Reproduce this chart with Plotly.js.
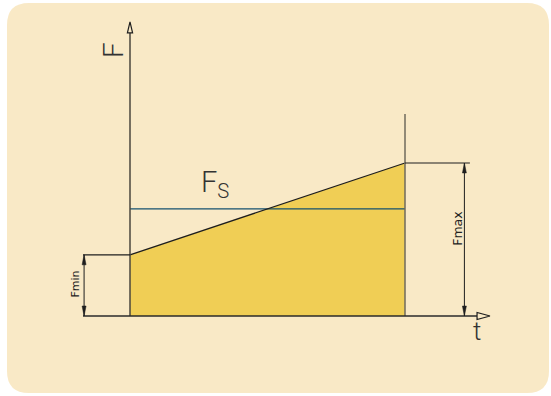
<!DOCTYPE html>
<html><head><meta charset="utf-8">
<script src="https://cdn.plot.ly/plotly-3.0.1.min.js"></script>
<style>html,body{margin:0;padding:0;background:#fff}#chart{width:551px;height:396px}</style>
</head><body><div id="chart"></div>
<script>
// ---- data ----
const tValues = [0, 10];          // start / end of the load interval
const forceValues = [2, 5];       // Fmin, Fmax
const forceMean = 3.5;            // Fs
const axisLabels = ['F', 't'];
const meanLabel = 'F<sub>S</sub>';
const dimLabels = ['Fmin', 'Fmax'];

// ---- style / geometry constants ----
const cream = '#F9E9C6';
const fillYellow = '#F0CE55';
const ink = '#1e1e1e';
const tMin = tValues[0], tMax = tValues[1];
const Fmin = forceValues[0], Fmax = forceValues[1];
const pxT = 27.5, pxF = 30.6;   // px per unit
const W = 551, H = 396;
const x0 = -130 / pxT, y0 = -(H - 316) / pxF;

function tri(x, y, dir, lenPx, halfPx) {
  const l = dir === 'right' ? lenPx / pxT : lenPx / pxF;
  const h = dir === 'right' ? halfPx / pxF : halfPx / pxT;
  if (dir === 'up') return {x: [x, x - h, x + h, x], y: [y, y - l, y - l, y]};
  if (dir === 'down') return {x: [x, x - h, x + h, x], y: [y, y + l, y + l, y]};
  return {x: [x, x - l, x - l, x], y: [y, y - h, y + h, y]};
}
function line(xs, ys, color, width) {
  return {type: 'scatter', mode: 'lines', x: xs, y: ys, hoverinfo: 'skip',
    line: {color: color, width: width}, showlegend: false};
}
function poly(p, fill, lc, lw) {
  return {type: 'scatter', mode: 'lines', x: p.x, y: p.y, fill: 'toself',
    fillcolor: fill, line: {color: lc, width: lw}, hoverinfo: 'skip', showlegend: false};
}

const yTop = 9.25, tEnd = 12.62, rightTop = 6.6;
const dimL = -1.67, dimR = 12.16, extL = -1.71, extR = 12.36;

const traces = [
  // filled region
  {type: 'scatter', mode: 'lines', x: [tMin, tMin, tMax, tMax, tMin], y: [0, Fmin, Fmax, 0, 0],
   fill: 'toself', fillcolor: fillYellow, line: {width: 0, color: fillYellow}, hoverinfo: 'skip', showlegend: false},
  // mean line
  line([tMin, tMax], [forceMean, forceMean], '#14506f', 1.2),
  // slope
  line([tMin, tMax], [Fmin, Fmax], ink, 1.3),
  // y axis
  line([tMin, tMin], [0, yTop], '#4a463c', 1.5),
  // right vertical
  line([tMax, tMax], [0, rightTop], '#6f6a5c', 1.5),
  // base line / t axis
  line([extL, tEnd], [0, 0], '#2a2a2a', 1.5),
  // extension lines
  line([extL, tMin], [Fmin, Fmin], ink, 1.2),
  line([tMax, extR], [Fmax, Fmax], ink, 1.2),
  // dimension lines
  line([dimL, dimL], [0, Fmin], ink, 1),
  line([dimR, dimR], [0, Fmax], ink, 1),
  poly(tri(dimL, Fmin, 'up', 10, 2), ink, ink, 0.5),
  poly(tri(dimL, 0, 'down', 10, 2), ink, ink, 0.5),
  poly(tri(dimR, Fmax, 'up', 10, 2), ink, ink, 0.5),
  poly(tri(dimR, 0, 'down', 10, 2), ink, ink, 0.5),
  // hollow axis arrows
  poly(tri(tMin, yTop + 11 / pxF, 'up', 11, 2.6), cream, ink, 1.2),
  poly(tri(tEnd + 13 / pxT, 0, 'right', 13, 3.5), cream, ink, 1.2)
];

const fnt = (s) => ({family: 'Roboto, Liberation Sans, sans-serif', size: s, color: '#333', weight: 300});
const small = (s) => ({family: 'DejaVu Sans, sans-serif', size: s, color: '#222'});
const annotations = [
  {x: -0.62, y: 8.69, text: axisLabels[0], textangle: -90, font: fnt(28)},
  {x: 12.62, y: -0.5, text: axisLabels[1], font: fnt(26)},
  {x: 3.1, y: 4.3, text: meanLabel, font: fnt(29)},
  {x: -2.0, y: 1.03, text: dimLabels[0], textangle: -90, font: small(11)},
  {x: 11.88, y: 2.84, text: dimLabels[1], textangle: -90, font: small(12.5)}
].map(a => Object.assign({xref: 'x', yref: 'y', showarrow: false, xanchor: 'center', yanchor: 'middle'}, a));

// rounded background (paper coords)
const L = 7 / W, R = 549 / W, T = 1 - 3 / H, B = 1 - 393 / H, rx = 22 / W, ry = 22 / H;
const bgPath = `M ${L + rx} ${T} L ${R - rx} ${T} Q ${R} ${T} ${R} ${T - ry} L ${R} ${B + ry} Q ${R} ${B} ${R - rx} ${B} L ${L + rx} ${B} Q ${L} ${B} ${L} ${B + ry} L ${L} ${T - ry} Q ${L} ${T} ${L + rx} ${T} Z`;

const layout = {
  width: W, height: H, margin: {l: 0, r: 0, t: 0, b: 0, pad: 0},
  paper_bgcolor: '#ffffff', plot_bgcolor: 'rgba(0,0,0,0)',
  xaxis: {range: [x0, x0 + W / pxT], visible: false, fixedrange: true},
  yaxis: {range: [y0, y0 + H / pxF], visible: false, fixedrange: true},
  shapes: [{type: 'path', xref: 'paper', yref: 'paper', path: bgPath, fillcolor: cream, line: {width: 0}, layer: 'below'}],
  annotations: annotations,
  showlegend: false
};
Plotly.newPlot('chart', traces, layout, {staticPlot: true, displayModeBar: false});
</script></body></html>
